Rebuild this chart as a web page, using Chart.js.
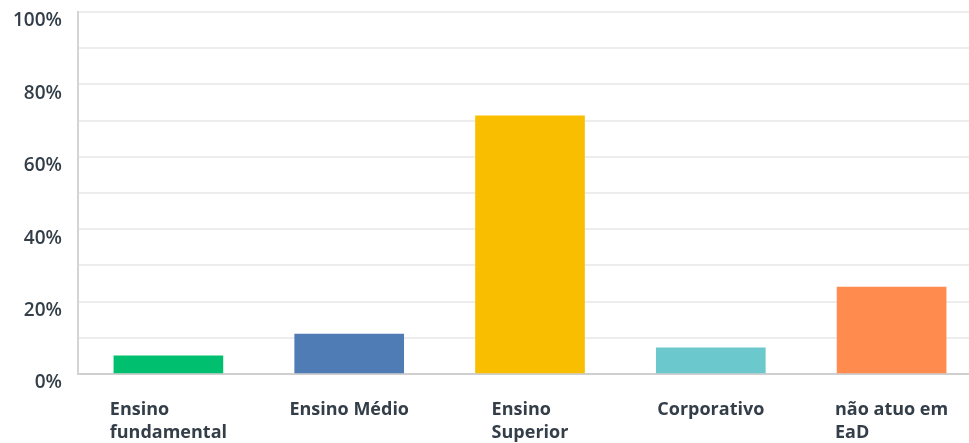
<!DOCTYPE html>
<html>
<head>
<meta charset="utf-8">
<script src="https://cdn.jsdelivr.net/npm/chart.js@4/dist/chart.umd.min.js"></script>
<style>
  html, body { margin: 0; padding: 0; background: #fff; overflow: hidden; }
  #wrap { position: absolute; left: 0; top: 0; width: 982px; height: 443px; }
</style>
</head>
<body>
<div id="wrap"><canvas id="answersChart"></canvas></div>
<script>
const categories = [['Ensino', 'fundamental'], ['Ensino Médio'], ['Ensino', 'Superior'], ['Corporativo'], ['não atuo em', 'EaD']];
const percentages = [5.0, 11.0, 71.3, 7.2, 24.0];
const barColors = ['#00bf6f', '#507cb6', '#f9be00', '#6bc8cd', '#ff8b4f'];
const yTickLabels = ['0%', '20%', '40%', '60%', '80%', '100%'];

const textColor = '#333e48';
const fontFamily = '"Open Sans", sans-serif';

// draw the category labels as left-aligned blocks centred under each bar
const xLabelPlugin = {
  id: 'xLabels',
  afterDraw(chart) {
    const ctx = chart.ctx;
    const xScale = chart.scales.x;
    const base = chart.chartArea.bottom;
    ctx.save();
    ctx.font = 'bold 18px ' + fontFamily;
    ctx.fillStyle = textColor;
    ctx.textAlign = 'left';
    ctx.textBaseline = 'alphabetic';
    categories.forEach((lines, i) => {
      const center = xScale.getPixelForTick(i);
      const w = Math.max(...lines.map(l => ctx.measureText(l).width));
      lines.forEach((line, j) => {
        ctx.fillText(line, center - w / 2, base + 41 + j * 23);
      });
    });
    ctx.restore();
  }
};

const ctx = document.getElementById('answersChart').getContext('2d');
const answersChart = new Chart(ctx, {
  type: 'bar',
  data: {
    labels: categories.map(c => c.join(' ')),
    datasets: [{
      data: percentages,
      backgroundColor: barColors,
      borderWidth: 0,
      barThickness: 109
    }]
  },
  options: {
    responsive: true,
    maintainAspectRatio: false,
    animation: false,
    layout: { padding: { top: 12, right: 0, left: 0, bottom: 0 } },
    plugins: {
      legend: { display: false },
      tooltip: { enabled: false }
    },
    scales: {
      x: {
        grid: { display: false, drawTicks: false },
        border: { display: true, color: '#cfcfcf', width: 2 },
        ticks: { display: false },
        afterFit: s => { s.height = 69; s.paddingLeft = 0; s.paddingRight = 0; }
      },
      y: {
        min: 0,
        max: 100,
        beginAtZero: true,
        grid: { color: '#ededed', lineWidth: 2, drawTicks: false },
        border: { display: true, color: '#d4d4d4', width: 2 },
        ticks: {
          stepSize: 10,
          padding: 16,
          labelOffset: 9,
          color: textColor,
          font: { family: fontFamily, size: 19, weight: 600 },
          callback: v => (v % 20 === 0 ? yTickLabels[v / 20] : '')
        },
        afterFit: s => { s.width = 78; s.paddingTop = 0; s.paddingBottom = 0; }
      }
    }
  },
  plugins: [xLabelPlugin]
});
</script>
</body>
</html>
